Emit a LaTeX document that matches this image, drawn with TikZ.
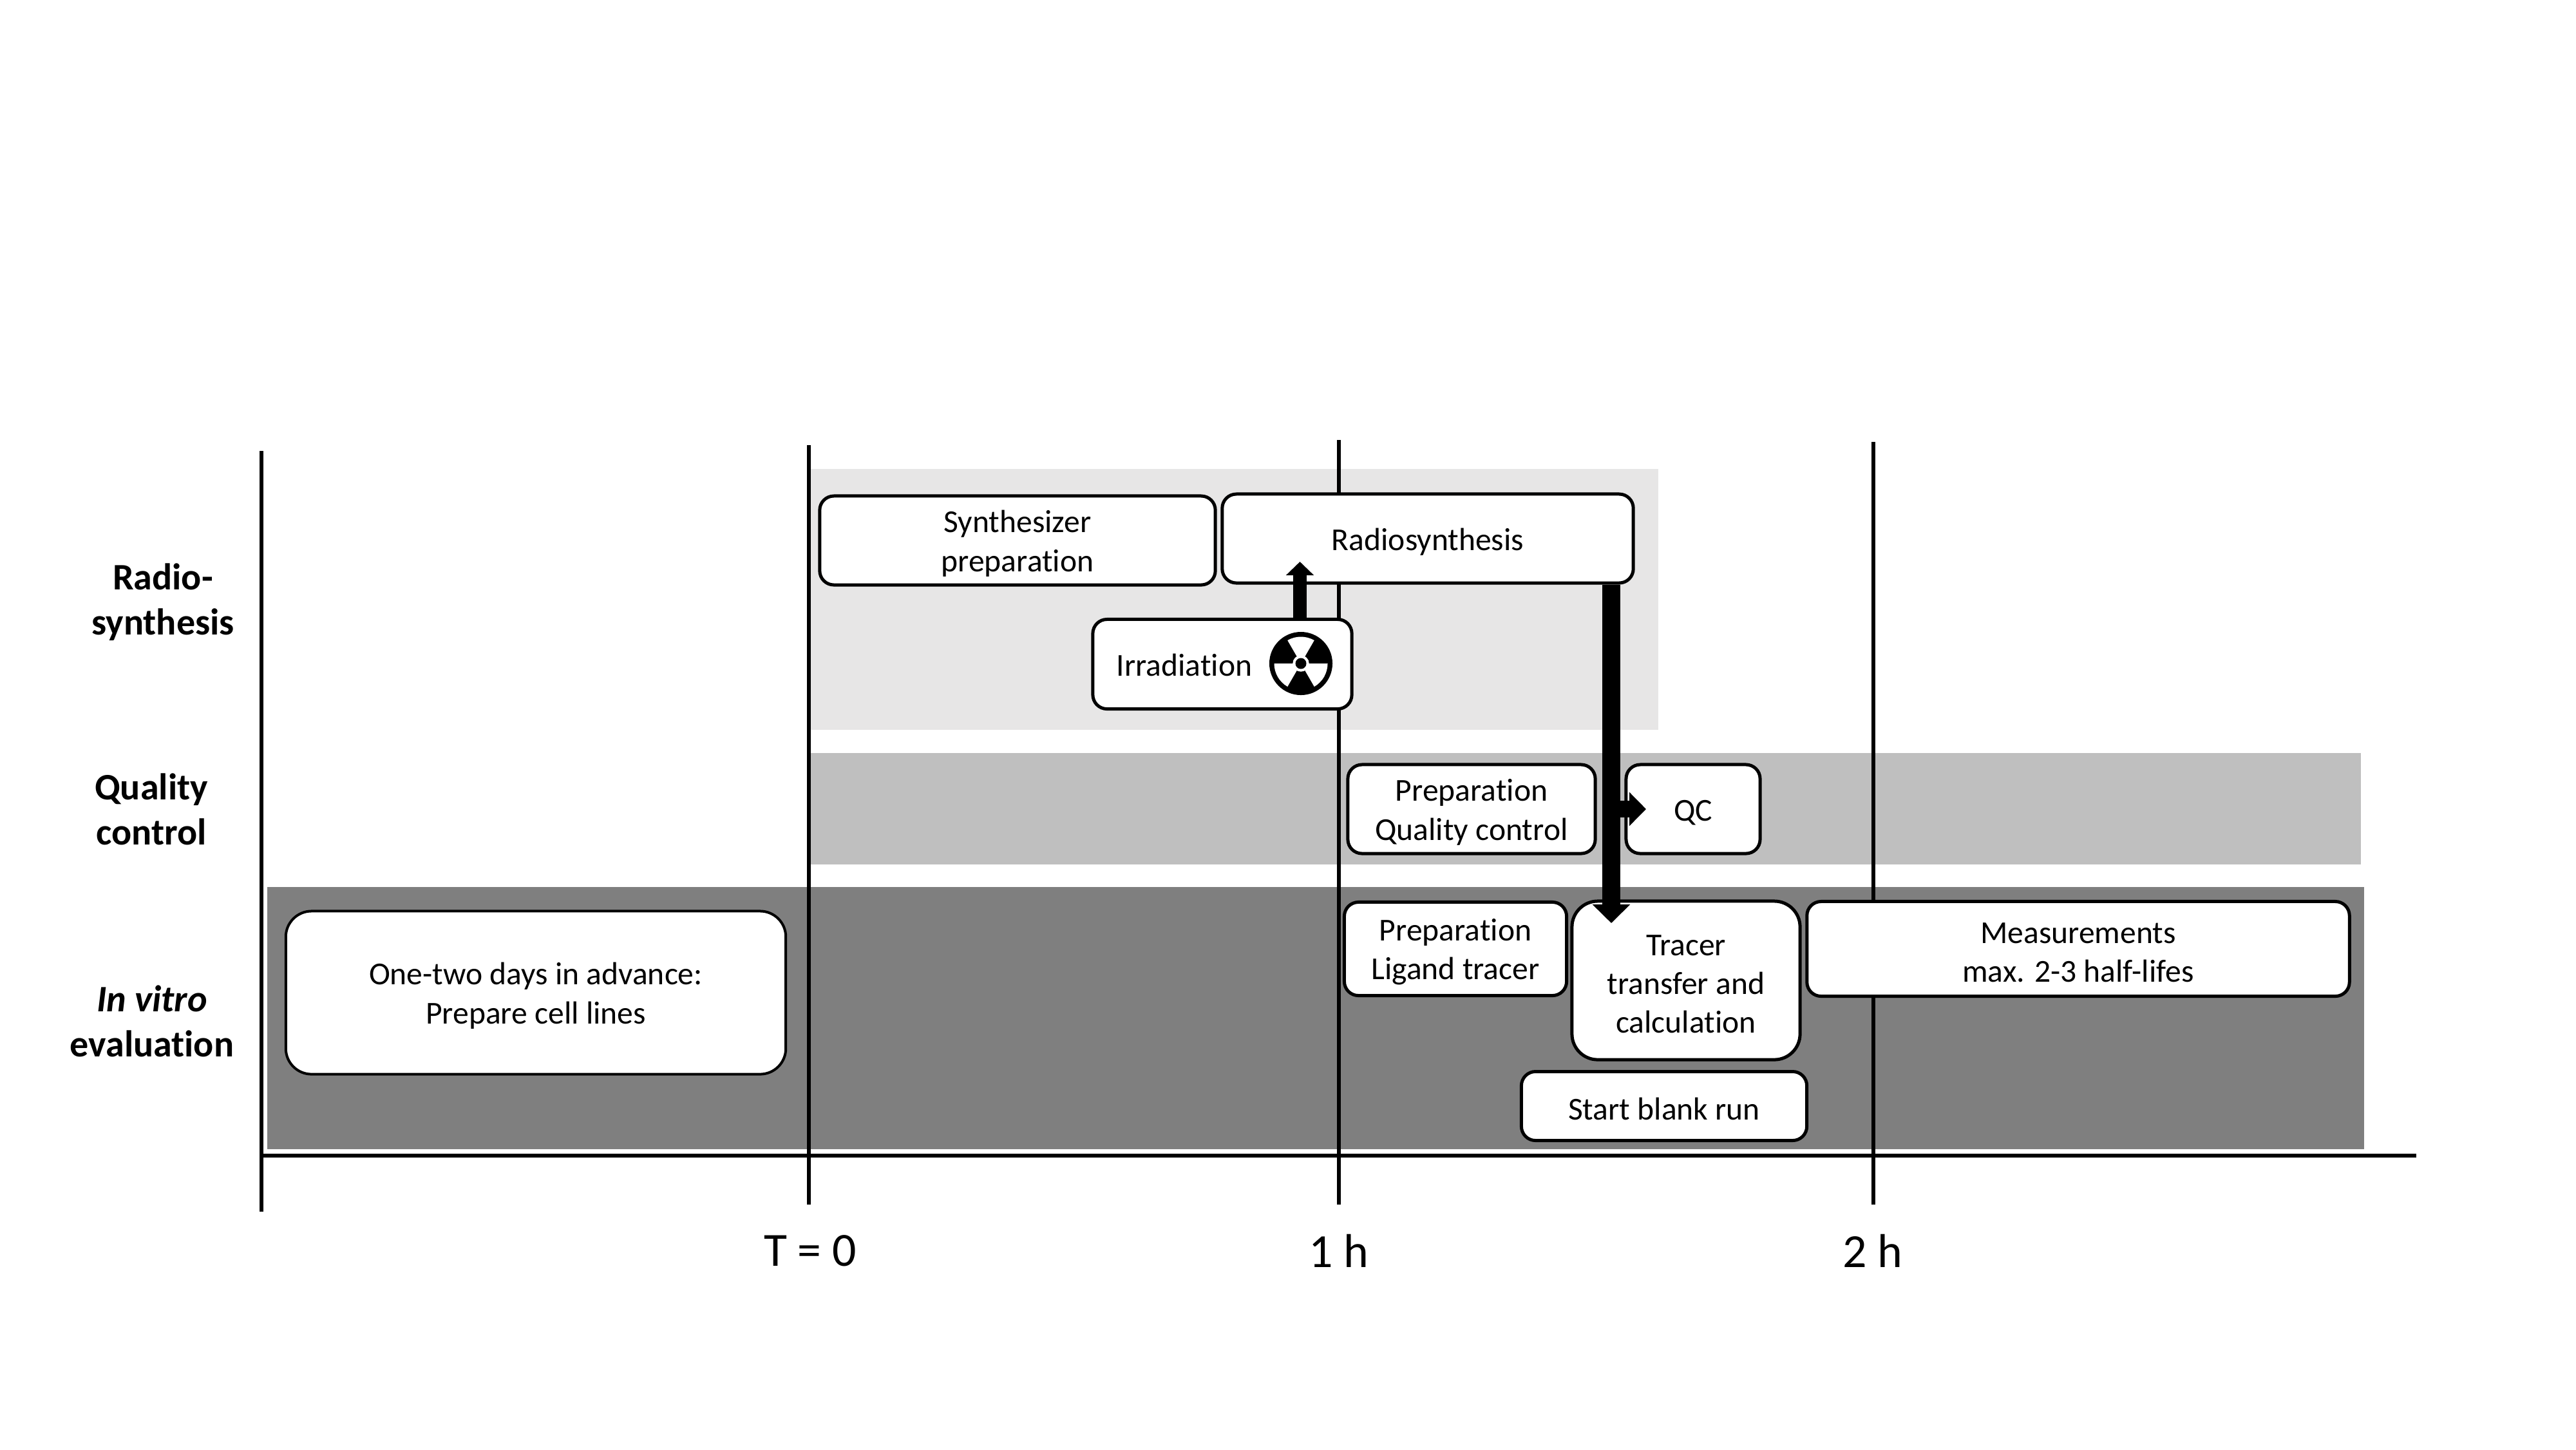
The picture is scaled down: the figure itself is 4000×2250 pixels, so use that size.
\documentclass[tikz,border=0pt]{standalone}
\usepackage{fontspec}
\setmainfont[Ligatures=NoCommon]{Carlito}
\usetikzlibrary{arrows.meta}
\definecolor{bandlight}{HTML}{E7E6E6}
\definecolor{bandmid}{HTML}{BFBFBF}
\definecolor{banddark}{HTML}{7F7F7F}
\tikzset{
	taskbox/.style={draw, fill=white, line width=5\pxu, rounded corners=22\pxu, align=center, font=\fontsize{14.1}{17.1}\selectfont, inner sep=0pt},
	phaselabel/.style={align=center, font=\fontsize{16.5}{20}\selectfont\bfseries},
	timelabel/.style={font=\fontsize{21}{25}\selectfont},
	timeline/.style={line width=6\pxu},
	hotarrow/.style={line width=28\pxu, -{Triangle[length=29\pxu, width=57\pxu]}},
	thinarrow/.style={line width=21\pxu, -{Triangle[length=21\pxu, width=42\pxu]}},
	forkarrow/.style={line width=26\pxu, -{Triangle[length=26\pxu, width=51\pxu]}}
}
\newcommand{\pxu}{mm*0.1}
\newcommand{\lowtext}{\rule{0pt}{12.5pt}}
\begin{document}
\begin{tikzpicture}[x=0.01cm, y=-0.01cm]
	\useasboundingbox (0,0) rectangle (4000,2250);
	% bands
	\fill[bandlight] (1258,728) rectangle (2575,1133);
	\fill[bandmid] (1258,1169) rectangle (3666,1342);
	\fill[banddark] (415,1377) rectangle (3671,1784);
	% axes
	\coordinate (axistop) at (406,700);
	\coordinate (axisbottom) at (406,1881);
	\coordinate (axisleft) at (406,1794);
	\coordinate (axisright) at (3752,1794);
	\draw[timeline] (axistop) -- (axisbottom);
	\draw[timeline] (axisleft) -- (axisright);
	\node[timelabel] (tzero) at (1258,1942) {T = 0};
	\node[timelabel] (tone) at (2079,1942) {1 h};
	\node[timelabel] (ttwo) at (2908,1942) {2 h};
	\coordinate (tzerotop) at (1256,691);
	\coordinate (tonetop) at (2079,683);
	\coordinate (ttwotop) at (2909,686);
	\draw[timeline] (tzerotop) -- (1256,1870);
	\draw[timeline] (tonetop) -- (2079,1870);
	\draw[timeline] (ttwotop) -- (2909,1870);
	% left labels
	\node[phaselabel] (radio) at (253,935) {Radio-\\synthesis};
	\node[phaselabel] (quality) at (235,1256) {Quality\\control};
	\node[phaselabel] (vitro) at (236,1585) {\textit{In vitro}\\evaluation};
	% boxes
	\node[taskbox, minimum width=6.14cm, minimum height=1.38cm] (synthprep) at (1580,839) {\lowtext Synthesizer\\preparation};
	\node[taskbox, minimum width=6.38cm, minimum height=1.38cm] (radiosynth) at (2217,836) {\lowtext Radiosynthesis};
	\coordinate (synthin) at (2018.5,872);
	\coordinate (tracerin) at (2502,1433);
	\coordinate (qcfork) at (2502,1256);
	\coordinate (qcin) at (2556,1256);
	\node[taskbox, minimum width=4.02cm, minimum height=1.39cm] (irradiation) at (1898,1031) {};
	\node[taskbox, minimum width=3.84cm, minimum height=1.38cm] (prepqc) at (2285,1256) {\lowtext Preparation\\Quality control};
	\node[taskbox, minimum width=2.08cm, minimum height=1.38cm] (qc) at (2629,1256) {\lowtext QC};
	\node[taskbox, minimum width=3.45cm, minimum height=1.45cm] (prepligand) at (2260,1473) {\lowtext Preparation\\Ligand tracer};
	\node[taskbox, minimum width=3.54cm, minimum height=2.46cm, rounded corners=40\pxu] (tracer) at (2618,1522) {\lowtext Tracer\\transfer and\\calculation};
	\node[taskbox, minimum width=8.42cm, minimum height=1.47cm] (measure) at (3227,1473) {\lowtext Measurements\\max. 2-3 half-lifes};
	\node[taskbox, minimum width=4.43cm, minimum height=1.07cm] (blank) at (2584,1717) {\lowtext Start blank run};
	\node[taskbox, line width=4\pxu, rounded corners=40\pxu, minimum width=7.76cm, minimum height=2.53cm] (cells) at (832,1541) {\lowtext One-two days in advance:\\Prepare cell lines};
	% arrows
	\draw[thinarrow] (irradiation.north -| synthin) -- (synthin);
	\draw[hotarrow] (radiosynth.south -| tracerin) -- (tracerin);
	\draw[forkarrow] (qcfork) -- (qcin);
	% irradiation text and symbol
	\node[font=\fontsize{14.1}{17.1}\selectfont] (irrtext) at (1839,1032) {Irradiation};
	\coordinate (hazard) at (2020,1030);
	\fill (hazard) circle (4.9mm);
	\fill[white] (hazard) -- ++(60:4.15mm) arc[start angle=60, end angle=120, radius=4.15mm] -- cycle;
	\fill[white] (hazard) -- ++(180:4.15mm) arc[start angle=180, end angle=240, radius=4.15mm] -- cycle;
	\fill[white] (hazard) -- ++(300:4.15mm) arc[start angle=300, end angle=360, radius=4.15mm] -- cycle;
	\fill[white] (hazard) circle (1.27mm);
	\fill (hazard) circle (0.85mm);
\end{tikzpicture}
\end{document}
